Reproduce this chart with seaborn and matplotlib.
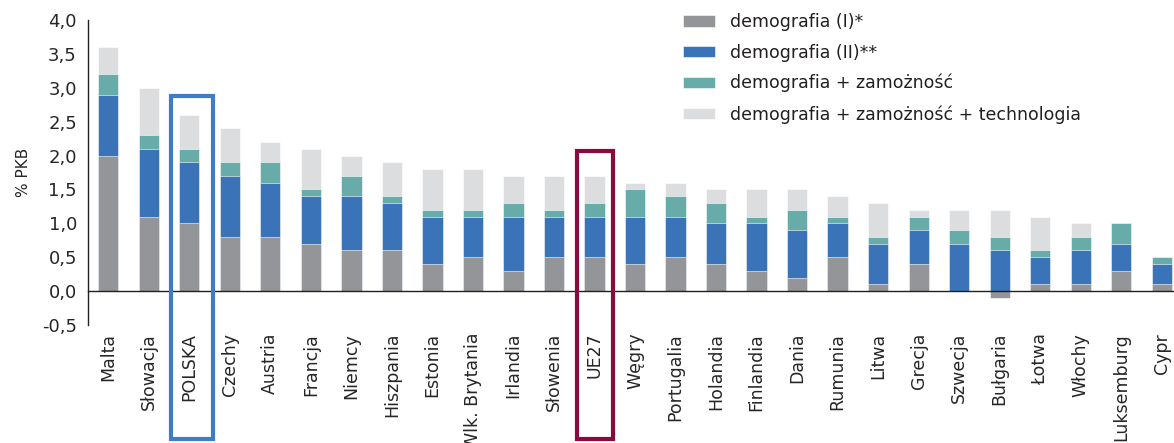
import matplotlib
matplotlib.use("Agg")
import matplotlib.pyplot as plt
import matplotlib.patches as mpatches
import matplotlib.transforms as mtransforms
import seaborn as sns

# cumulative levels (% PKB)
countries = ["Malta", "Słowacja", "POLSKA", "Czechy", "Austria", "Francja", "Niemcy",
             "Hiszpania", "Estonia", "Wlk. Brytania", "Irlandia", "Słowenia", "UE27",
             "Węgry", "Portugalia", "Holandia", "Finlandia", "Dania", "Rumunia", "Litwa",
             "Grecja", "Szwecja", "Bułgaria", "Łotwa", "Włochy", "Luksemburg", "Cypr"]
demo_1 = [2.0, 1.1, 1.0, 0.8, 0.8, 0.7, 0.6, 0.6, 0.4, 0.5, 0.3, 0.5, 0.5,
          0.4, 0.5, 0.4, 0.3, 0.2, 0.5, 0.1, 0.4, 0.0, -0.1, 0.1, 0.1, 0.3, 0.1]
demo_2 = [2.9, 2.1, 1.9, 1.7, 1.6, 1.4, 1.4, 1.3, 1.1, 1.1, 1.1, 1.1, 1.1,
          1.1, 1.1, 1.0, 1.0, 0.9, 1.0, 0.7, 0.9, 0.7, 0.6, 0.5, 0.6, 0.7, 0.4]
demo_wealth = [3.2, 2.3, 2.1, 1.9, 1.9, 1.5, 1.7, 1.4, 1.2, 1.2, 1.3, 1.2, 1.3,
               1.5, 1.4, 1.3, 1.1, 1.2, 1.1, 0.8, 1.1, 0.9, 0.8, 0.6, 0.8, 1.0, 0.5]
demo_wealth_tech = [3.6, 3.0, 2.6, 2.4, 2.2, 2.1, 2.0, 1.9, 1.8, 1.8, 1.7, 1.7, 1.7,
                    1.6, 1.6, 1.5, 1.5, 1.5, 1.4, 1.3, 1.2, 1.2, 1.2, 1.1, 1.0, 1.0, 0.5]

series_labels = ["demografia (I)*", "demografia (II)**", "demografia + zamożność",
                 "demografia + zamożność + technologia"]
y_ticks = [-0.5, 0.0, 0.5, 1.0, 1.5, 2.0, 2.5, 3.0, 3.5, 4.0]
y_tick_labels = ["-0,5", "0,0", "0,5", "1,0", "1,5", "2,0", "2,5", "3,0", "3,5", "4,0"]

colors = ["#939598", "#3b73b9", "#67aca9", "#dcdddf"]

sns.set_style("white")
plt.rcParams["font.family"] = ["DejaVu Sans"]
plt.rcParams["text.color"] = "#231f20"

fig = plt.figure(figsize=(11.74, 4.43), dpi=100)
ax = fig.add_axes([88 / 1174, 118 / 443, 1094 / 1174, 305 / 443])

# overlapping bars, largest level drawn first
series = [demo_1, demo_2, demo_wealth, demo_wealth_tech]
for vals, col, lab in reversed(list(zip(series, colors, series_labels))):
    sns.barplot(x=countries, y=vals, color=col, saturation=1, width=0.5,
                label=lab, ax=ax, edgecolor="white", linewidth=0.4)

ax.set_xlim(-0.5, len(countries) - 0.5)
ax.set_ylim(-0.5, 4.0)
ax.set_yticks(y_ticks)
ax.set_yticklabels(y_tick_labels, fontsize=13)
ax.set_ylabel("% PKB", fontsize=11, labelpad=8)
ax.set_xlabel("")

for s in ["top", "right"]:
    ax.spines[s].set_visible(False)
ax.spines["bottom"].set_position(("data", 0))
for s in ["left", "bottom"]:
    ax.spines[s].set_color("#231f20")
    ax.spines[s].set_linewidth(1)

ax.set_xticks(range(len(countries)))
ax.set_xticklabels(countries, rotation=90, fontsize=12.5)
ax.set_xticks([i - 0.5 for i in range(len(countries) + 1)], minor=True)
ax.tick_params(axis="x", which="major", length=0, pad=30)
ax.tick_params(axis="x", which="minor", length=5, width=1, direction="out", color="#231f20")
ax.tick_params(axis="y", length=5, width=1, direction="out", color="#231f20", pad=3)

# highlight boxes around POLSKA and UE27
trans = mtransforms.blended_transform_factory(ax.transData, fig.transFigure)
box_pl = mpatches.Rectangle((1.55, 1 - 439 / 443), 1.03, (439 - 96) / 443,
                            transform=trans, fill=False, edgecolor="#3f7bc7",
                            linewidth=3, clip_on=False)
box_ue = mpatches.Rectangle((11.57, 1 - 439 / 443), 0.88, (439 - 151) / 443,
                            transform=trans, fill=False, edgecolor="#8b0a3e",
                            linewidth=3, clip_on=False)
fig.add_artist(box_pl)
fig.add_artist(box_ue)

handles, labels = ax.get_legend_handles_labels()
order = [labels.index(l) for l in series_labels]
ax.legend([handles[i] for i in order], series_labels, loc="upper left",
          bbox_to_anchor=(683 / 1174, 1 - 13 / 443), bbox_transform=fig.transFigure,
          frameon=False, fontsize=12.5, handlelength=1.85, handleheight=0.62,
          handletextpad=0.85, labelspacing=0.72, borderpad=0, borderaxespad=0)

fig.savefig("out.png", dpi=100)
